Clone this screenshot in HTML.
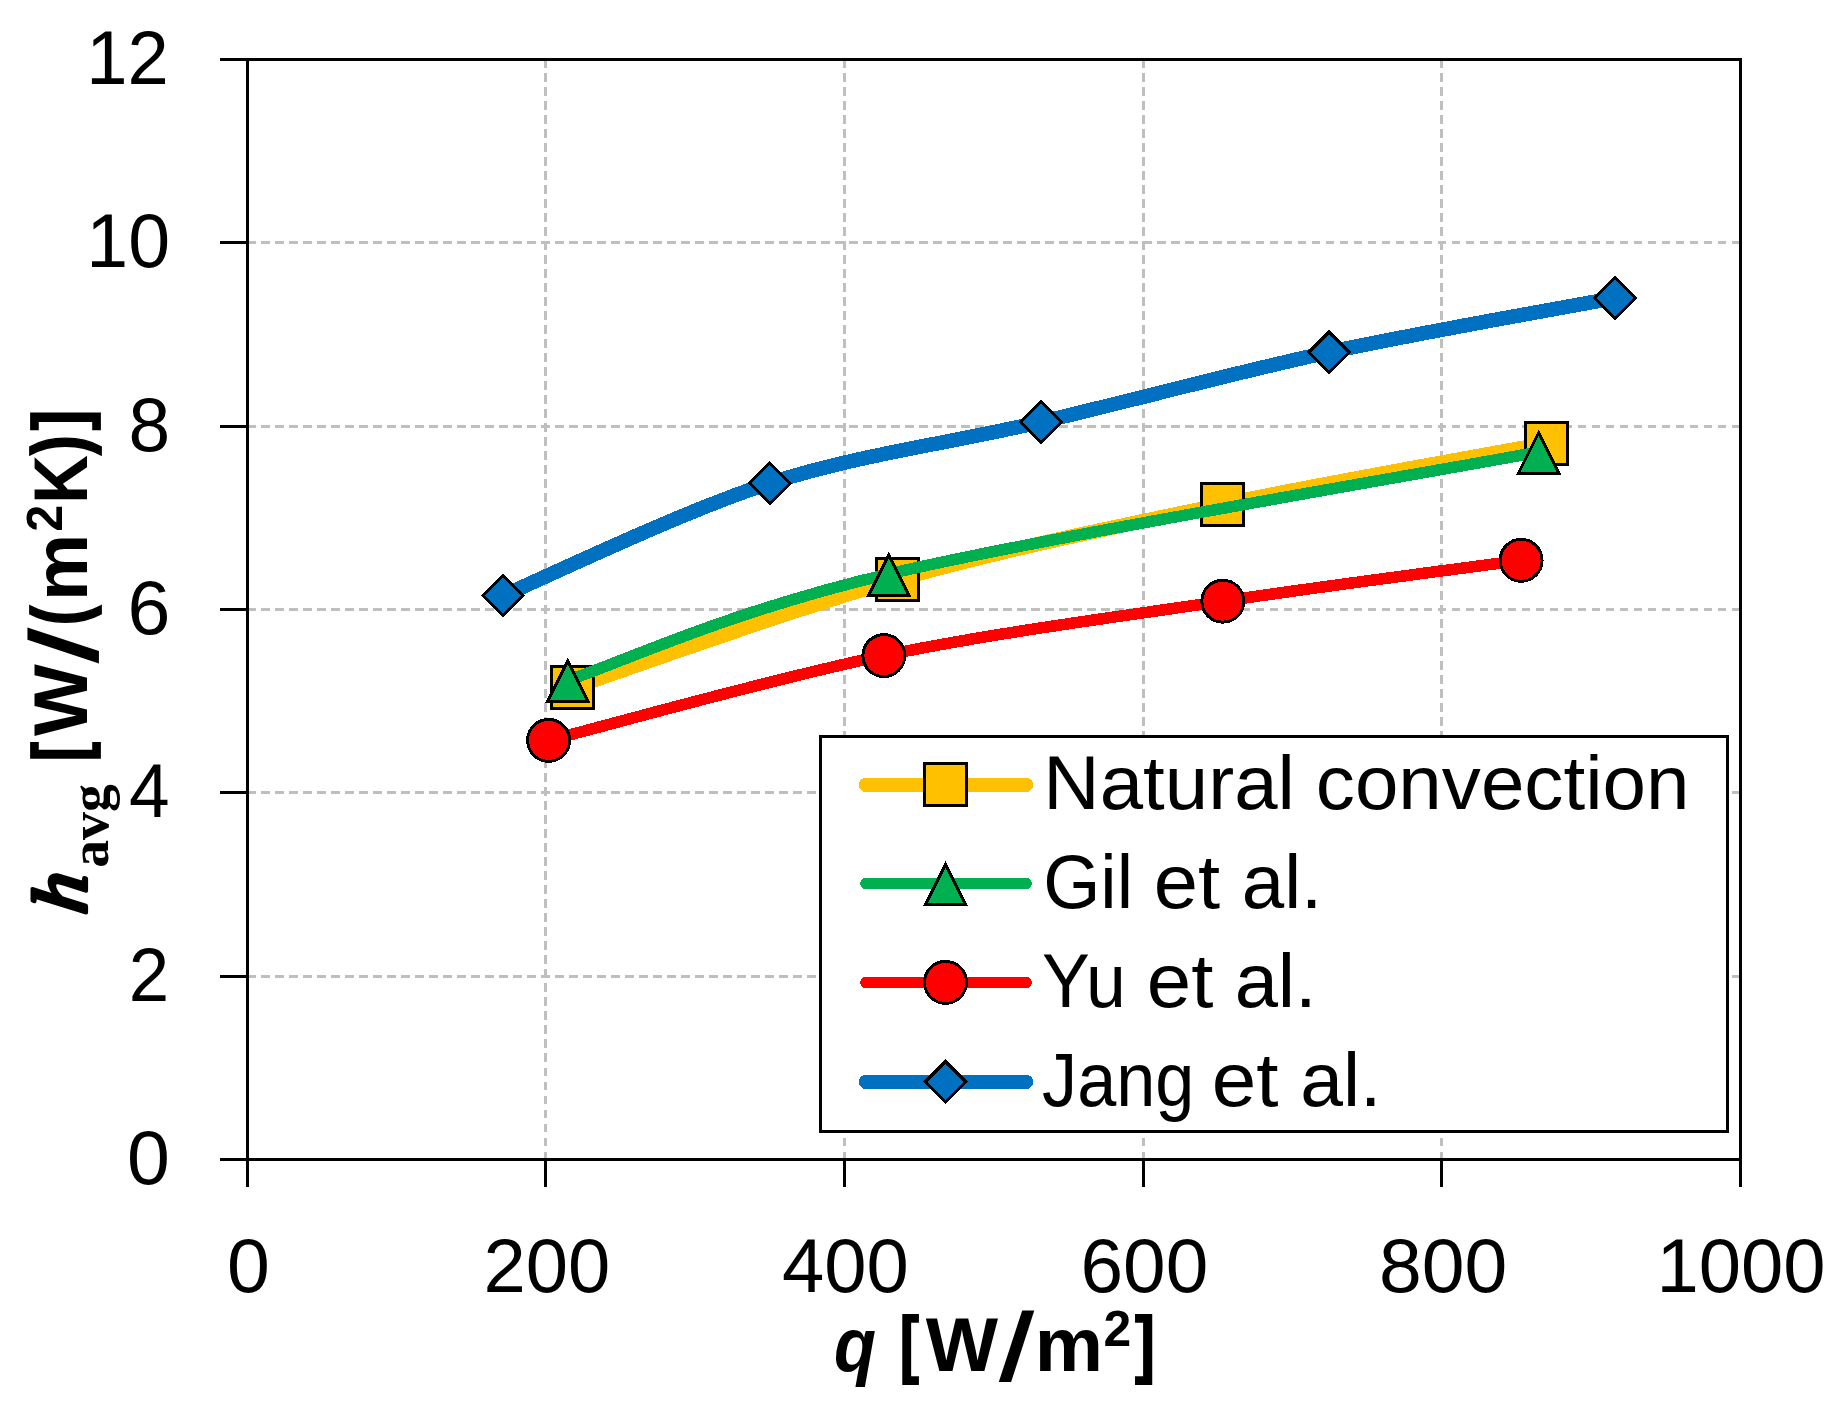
<!DOCTYPE html>
<html lang="en"><head><meta charset="utf-8"><title>h_avg vs q</title>
<style>html,body{margin:0;padding:0;background:#fff;overflow:hidden}svg{display:block}text{font-family:"Liberation Sans",sans-serif;fill:#000}.b{font-weight:bold}.ser{font-family:"Liberation Serif",serif}</style></head><body>
<svg width="1844" height="1415" viewBox="0 0 1844 1415">
<rect width="1844" height="1415" fill="#fff"/>
<g stroke="#bfbfbf" stroke-width="3" fill="none" stroke-dasharray="8.75 5.257" shape-rendering="crispEdges">
<line x1="545.50" y1="59.00" x2="545.50" y2="1159.50"/>
<line x1="844.50" y1="59.00" x2="844.50" y2="1159.50"/>
<line x1="1143.50" y1="59.00" x2="1143.50" y2="1159.50"/>
<line x1="1441.50" y1="59.00" x2="1441.50" y2="1159.50"/>
<line x1="247.00" y1="976.50" x2="1740.50" y2="976.50"/>
<line x1="247.00" y1="792.50" x2="1740.50" y2="792.50"/>
<line x1="247.00" y1="609.50" x2="1740.50" y2="609.50"/>
<line x1="247.00" y1="426.50" x2="1740.50" y2="426.50"/>
<line x1="247.00" y1="242.50" x2="1740.50" y2="242.50"/>
</g>
<g stroke="#000" stroke-width="3.00" fill="none" shape-rendering="crispEdges">
<rect x="247.50" y="59.50" width="1493.00" height="1100.00"/>
<line x1="220" y1="1159.50" x2="247.50" y2="1159.50"/>
<line x1="220" y1="976.50" x2="247.50" y2="976.50"/>
<line x1="220" y1="792.50" x2="247.50" y2="792.50"/>
<line x1="220" y1="609.50" x2="247.50" y2="609.50"/>
<line x1="220" y1="426.50" x2="247.50" y2="426.50"/>
<line x1="220" y1="242.50" x2="247.50" y2="242.50"/>
<line x1="220" y1="59.50" x2="247.50" y2="59.50"/>
<line x1="247.50" y1="1159.50" x2="247.50" y2="1187"/>
<line x1="545.50" y1="1159.50" x2="545.50" y2="1187"/>
<line x1="844.50" y1="1159.50" x2="844.50" y2="1187"/>
<line x1="1143.50" y1="1159.50" x2="1143.50" y2="1187"/>
<line x1="1441.50" y1="1159.50" x2="1441.50" y2="1187"/>
<line x1="1740.50" y1="1159.50" x2="1740.50" y2="1187"/>
</g>
<g shape-rendering="crispEdges">
<path d="M572.50,687.50 C626.67,669.50 789.17,610.00 897.50,579.50 C1005.83,549.00 1114.33,527.17 1222.50,504.50 C1330.67,481.83 1492.50,453.67 1546.50,443.50" fill="none" stroke="#FFC000" stroke-width="14.50" stroke-linecap="round" stroke-linejoin="round"/>
<rect x="551.50" y="666.50" width="42.00" height="42.00" fill="#FFC000" stroke="#000" stroke-width="3.00" stroke-linejoin="miter"/>
<rect x="876.50" y="558.50" width="42.00" height="42.00" fill="#FFC000" stroke="#000" stroke-width="3.00" stroke-linejoin="miter"/>
<rect x="1201.50" y="483.50" width="42.00" height="42.00" fill="#FFC000" stroke="#000" stroke-width="3.00" stroke-linejoin="miter"/>
<rect x="1525.50" y="422.50" width="42.00" height="42.00" fill="#FFC000" stroke="#000" stroke-width="3.00" stroke-linejoin="miter"/>
</g>
<g shape-rendering="crispEdges">
<path d="M567.80,680.30 C621.28,662.58 726.90,612.05 888.70,574.00 C1050.50,535.95 1430.28,472.33 1538.60,452.00" fill="none" stroke="#00B050" stroke-width="11.50" stroke-linecap="round" stroke-linejoin="round"/>
<polygon points="567.80,661.15 587.87,701.30 547.73,701.30" fill="#00B050" stroke="#000" stroke-width="3.00" stroke-linejoin="miter"/>
<polygon points="888.70,554.85 908.77,595.00 868.63,595.00" fill="#00B050" stroke="#000" stroke-width="3.00" stroke-linejoin="miter"/>
<polygon points="1538.60,432.85 1558.67,473.00 1518.53,473.00" fill="#00B050" stroke="#000" stroke-width="3.00" stroke-linejoin="miter"/>
</g>
<g shape-rendering="crispEdges">
<path d="M548.60,740.40 C604.47,726.27 771.43,678.80 883.80,655.60 C996.17,632.40 1116.58,617.08 1222.80,601.20 C1329.02,585.32 1471.38,567.12 1521.10,560.30" fill="none" stroke="#FF0000" stroke-width="11.50" stroke-linecap="round" stroke-linejoin="round"/>
<circle cx="548.60" cy="740.40" r="20.95" fill="#FF0000" stroke="#000" stroke-width="3.00" stroke-linejoin="miter"/>
<circle cx="883.80" cy="655.60" r="20.95" fill="#FF0000" stroke="#000" stroke-width="3.00" stroke-linejoin="miter"/>
<circle cx="1222.80" cy="601.20" r="20.95" fill="#FF0000" stroke="#000" stroke-width="3.00" stroke-linejoin="miter"/>
<circle cx="1521.10" cy="560.30" r="20.95" fill="#FF0000" stroke="#000" stroke-width="3.00" stroke-linejoin="miter"/>
</g>
<g shape-rendering="crispEdges">
<path d="M503.00,595.50 C547.45,576.78 680.03,512.13 769.70,483.20 C859.37,454.27 947.78,443.73 1041.00,421.90 C1134.22,400.07 1233.35,372.85 1329.00,352.20 C1424.65,331.55 1567.25,307.03 1614.90,298.00" fill="none" stroke="#0070C0" stroke-width="14.50" stroke-linecap="round" stroke-linejoin="round"/>
<polygon points="503.00,575.20 523.30,595.50 503.00,615.80 482.70,595.50" fill="#0070C0" stroke="#000" stroke-width="3.00" stroke-linejoin="miter"/>
<polygon points="769.70,462.90 790.00,483.20 769.70,503.50 749.40,483.20" fill="#0070C0" stroke="#000" stroke-width="3.00" stroke-linejoin="miter"/>
<polygon points="1041.00,401.60 1061.30,421.90 1041.00,442.20 1020.70,421.90" fill="#0070C0" stroke="#000" stroke-width="3.00" stroke-linejoin="miter"/>
<polygon points="1329.00,331.90 1349.30,352.20 1329.00,372.50 1308.70,352.20" fill="#0070C0" stroke="#000" stroke-width="3.00" stroke-linejoin="miter"/>
<polygon points="1614.90,277.70 1635.20,298.00 1614.90,318.30 1594.60,298.00" fill="#0070C0" stroke="#000" stroke-width="3.00" stroke-linejoin="miter"/>
</g>
<g shape-rendering="crispEdges">
<rect x="820.5" y="736.5" width="907" height="395" fill="#fff" stroke="#000" stroke-width="3.00"/>
<line x1="866" y1="784.80" x2="1026" y2="784.80" stroke="#FFC000" stroke-width="14.50" stroke-linecap="round"/>
<rect x="924.50" y="763.50" width="42.00" height="42.00" fill="#FFC000" stroke="#000" stroke-width="3.00" stroke-linejoin="miter"/>
<line x1="866" y1="883.40" x2="1026" y2="883.40" stroke="#00B050" stroke-width="11.50" stroke-linecap="round"/>
<polygon points="945.50,864.25 965.57,904.40 925.43,904.40" fill="#00B050" stroke="#000" stroke-width="3.00" stroke-linejoin="miter"/>
<line x1="866" y1="982.40" x2="1026" y2="982.40" stroke="#FF0000" stroke-width="11.50" stroke-linecap="round"/>
<circle cx="945.50" cy="982.40" r="20.95" fill="#FF0000" stroke="#000" stroke-width="3.00" stroke-linejoin="miter"/>
<line x1="866" y1="1081.80" x2="1026" y2="1081.80" stroke="#0070C0" stroke-width="14.50" stroke-linecap="round"/>
<polygon points="945.50,1061.50 965.80,1081.80 945.50,1102.10 925.20,1081.80" fill="#0070C0" stroke="#000" stroke-width="3.00" stroke-linejoin="miter"/>
</g>
<g><text transform="translate(1043.34,809.00) scale(1.0269,1)" font-size="76">Natural</text> <text transform="translate(1315.81,809.00) scale(1.0285,1)" font-size="76">convection</text></g>
<g><text transform="translate(1043.13,908.00) scale(0.9679,1)" font-size="76">Gil</text> <text transform="translate(1153.66,908.00) scale(1.0467,1)" font-size="76">et</text> <text transform="translate(1241.69,908.00) scale(1.0043,1)" font-size="76">al.</text></g>
<g><text transform="translate(1042.11,1007.00) scale(0.9427,1)" font-size="76">Yu</text> <text transform="translate(1146.85,1007.00) scale(1.0500,1)" font-size="76">et</text> <text transform="translate(1234.63,1007.00) scale(1.0229,1)" font-size="76">al.</text></g>
<g><text transform="translate(1042.08,1105.70) scale(0.9239,1)" font-size="76">Jang</text> <text transform="translate(1211.84,1105.70) scale(1.0533,1)" font-size="76">et</text> <text transform="translate(1300.27,1105.70) scale(1.0114,1)" font-size="76">al.</text></g>
<text transform="translate(86.34,83.70) scale(0.9760,1)" font-size="76">12</text>
<text transform="translate(86.26,266.70) scale(0.9908,1)" font-size="76">10</text>
<text transform="translate(128.54,450.70) scale(0.9861,1)" font-size="76">8</text>
<text transform="translate(127.44,633.70) scale(1.0143,1)" font-size="76">6</text>
<text transform="translate(129.08,816.70) scale(0.9605,1)" font-size="76">4</text>
<text transform="translate(128.68,1000.70) scale(0.9559,1)" font-size="76">2</text>
<text transform="translate(126.96,1183.70) scale(1.0139,1)" font-size="76">0</text>
<text transform="translate(226.96,1291.70) scale(1.0139,1)" font-size="76">0</text>
<text transform="translate(483.50,1291.70) scale(1.0000,1)" font-size="76">200</text>
<text transform="translate(782.00,1291.70) scale(1.0000,1)" font-size="76">400</text>
<text transform="translate(1080.47,1291.70) scale(1.0083,1)" font-size="76">600</text>
<text transform="translate(1378.96,1291.70) scale(1.0124,1)" font-size="76">800</text>
<text transform="translate(1656.50,1291.70) scale(1.0006,1)" font-size="76">1000</text>
<g><text transform="translate(833.99,1370.70) scale(0.9070,1)" font-size="76" font-weight="bold" font-style="italic">q</text> <text transform="translate(899.70,1368.70) scale(0.7682,1)" font-size="75" font-weight="bold" stroke="#000" stroke-width="1.8">[</text><text transform="translate(925.80,1370.70) scale(1.0085,1)" font-size="76" font-weight="bold">W</text><text transform="translate(997.98,1380.00) scale(1.0235,1) skewX(-6.75) scale(1.06,1)" font-size="96" font-weight="bold">/</text><text transform="translate(1034.65,1370.70) scale(1.0103,1)" font-size="76" font-weight="bold">m</text><text transform="translate(1103.41,1345.80) scale(0.9958,1)" font-size="50" font-weight="bold">2</text><text transform="translate(1135.00,1368.70) scale(0.7955,1)" font-size="75" font-weight="bold" stroke="#000" stroke-width="1.8">]</text></g>
<g transform="translate(87.00,0) rotate(-90)"><text transform="translate(-915.24,-1.20) scale(1.0436,1) skewX(-7)" font-size="77" font-style="italic" class="ser" stroke="#000" stroke-width="4.2" stroke-linejoin="round">h</text><text transform="translate(-867.87,20.60) scale(1.0333,1)" font-size="54" font-weight="bold" class="ser">avg</text> <text transform="translate(-761.20,-2.00) scale(0.7682,1)" font-size="75" font-weight="bold" stroke="#000" stroke-width="1.8">[</text><text transform="translate(-736.10,0.00) scale(1.0028,1)" font-size="76" font-weight="bold">W</text><text transform="translate(-664.24,10.30) scale(1.0353,1) skewX(-6.75) scale(1.06,1)" font-size="96" font-weight="bold">/</text><text transform="translate(-625.20,-2.50) scale(0.7667,1)" font-size="76" font-weight="bold" stroke="#000" stroke-width="1.8">(</text><text transform="translate(-600.97,0.00) scale(0.9931,1)" font-size="76" font-weight="bold">m</text><text transform="translate(-531.84,-24.90) scale(0.9708,1)" font-size="50" font-weight="bold">2</text><text transform="translate(-503.64,0.00) scale(0.8878,1)" font-size="76" font-weight="bold">K</text><text transform="translate(-454.92,-2.50) scale(0.7826,1)" font-size="76" font-weight="bold" stroke="#000" stroke-width="1.8">)</text><text transform="translate(-430.30,-2.00) scale(0.8182,1)" font-size="75" font-weight="bold" stroke="#000" stroke-width="1.8">]</text></g>
</svg></body></html>
